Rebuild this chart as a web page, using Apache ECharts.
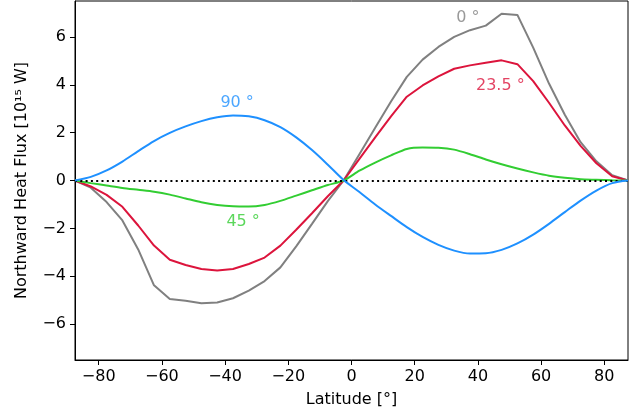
<!DOCTYPE html>
<html>
<head>
<meta charset="utf-8">
<script src="https://cdn.jsdelivr.net/npm/echarts@6/dist/echarts.min.js"></script>
<style>html,body{margin:0;padding:0;background:#fff;}#c{width:638px;height:416px;}</style>
</head>
<body>
<div id="c"></div>
<script>
const latitudes = [-87.5,-82.5,-77.5,-72.5,-67.5,-62.5,-57.5,-52.5,-47.5,-42.5,-37.5,-32.5,-27.5,-22.5,-17.5,-12.5,-7.5,-2.5,2.5,7.5,12.5,17.5,22.5,27.5,32.5,37.5,42.5,47.5,52.5,57.5,62.5,67.5,72.5,77.5,82.5,87.5];
const flux0 = [0,-0.3,-0.9,-1.67,-2.88,-4.38,-4.95,-5.02,-5.13,-5.1,-4.92,-4.6,-4.2,-3.63,-2.75,-1.81,-0.86,0,1.1,2.2,3.3,4.33,5.05,5.58,6.0,6.28,6.47,6.97,6.92,5.55,4.05,2.75,1.6,0.8,0.22,0];
const flux23 = [0,-0.25,-0.6,-1.1,-1.88,-2.72,-3.31,-3.53,-3.7,-3.76,-3.7,-3.49,-3.22,-2.72,-2.06,-1.37,-0.66,0,0.9,1.8,2.68,3.5,3.97,4.35,4.67,4.81,4.92,5.02,4.86,4.15,3.25,2.3,1.45,0.72,0.18,0];
const flux45 = [0,-0.11,-0.21,-0.31,-0.39,-0.47,-0.59,-0.75,-0.91,-1.02,-1.08,-1.09,-1.02,-0.85,-0.63,-0.41,-0.19,0,0.41,0.75,1.05,1.32,1.38,1.37,1.29,1.1,0.88,0.68,0.5,0.34,0.2,0.11,0.05,0.03,0.01,0];
const flux90 = [0,0.15,0.42,0.79,1.23,1.65,1.99,2.26,2.48,2.64,2.72,2.68,2.52,2.23,1.8,1.27,0.66,0.02,-0.48,-1.0,-1.48,-1.95,-2.36,-2.69,-2.93,-3.05,-3.04,-2.9,-2.63,-2.26,-1.81,-1.32,-0.84,-0.42,-0.11,0];
const seriesNames = ['0°','23.5°','45°','90°'];
const labelTexts = ['0 °','23.5 °','45 °','90 °'];
const labelLat = [36.8, 47.1, -34.3, -36.2];
const labelVal = [6.79, 3.97, -1.74, 3.26];
const xTicks = [-80,-60,-40,-20,0,20,40,60,80];
const yTicks = [-6,-4,-2,0,2,4,6];
const xRange = [-87.5, 87.5];
const yRange = [-7.5, 7.5];

const colors = ['#808080','#DC143C','#32CD32','#1E90FF'];
const smoothing = [false, false, 0.25, 0.3];
const allFlux = [flux0, flux23, flux45, flux90];
const FONT = 'DejaVu Sans';
const fmt = v => String(v).replace('-', '\u2212');

const series = allFlux.map((arr, i) => ({
  name: seriesNames[i],
  type: 'line',
  data: latitudes.map((la, j) => [la, arr[j]]),
  showSymbol: false,
  symbol: 'none',
  smooth: smoothing[i],
  lineStyle: { color: colors[i], width: 2 },
  z: 2 + i,
  animation: false
}));
series.push({
  type: 'line', data: [], z: 10, animation: false,
  markLine: {
    silent: true, symbol: 'none', animation: false,
    data: [{ yAxis: 0 }],
    label: { show: false },
    lineStyle: { color: '#000', width: 2, type: [2, 3.3], cap: 'butt' }
  }
});
series.push({
  type: 'scatter', z: 12, animation: false, symbolSize: 0,
  data: labelTexts.map((t, i) => ({
    value: [labelLat[i], labelVal[i]],
    label: { show: true, position: 'inside', formatter: t, color: colors[i], fontSize: 16, fontFamily: FONT }
  }))
});

const chart = echarts.init(document.getElementById('c'), null, { renderer: 'canvas' });
chart.setOption({
  animation: false,
  backgroundColor: '#fff',
  grid: { left: 75, right: 10, top: 1, bottom: 56, show: true, borderColor: '#000', borderWidth: 1, backgroundColor: 'transparent' },
  xAxis: {
    type: 'value', min: xRange[0], max: xRange[1],
    name: 'Latitude [°]', nameLocation: 'middle', nameGap: 32,
    nameTextStyle: { fontFamily: FONT, fontSize: 16, color: '#000' },
    axisLine: { show: true, onZero: false, lineStyle: { color: '#000', width: 1 } },
    axisTick: { show: true, length: 5, customValues: xTicks, lineStyle: { color: '#000', width: 1 } },
    axisLabel: { customValues: xTicks, formatter: fmt, fontFamily: FONT, fontSize: 16, color: '#000', margin: 9 },
    splitLine: { show: false }
  },
  yAxis: {
    type: 'value', min: yRange[0], max: yRange[1],
    name: 'Northward Heat Flux [10\u00b9\u2075 W]', nameLocation: 'middle', nameGap: 45, nameRotate: 90,
    nameTextStyle: { fontFamily: FONT, fontSize: 16, color: '#000' },
    axisLine: { show: true, onZero: false, lineStyle: { color: '#000', width: 1 } },
    axisTick: { show: true, length: 5, customValues: yTicks, lineStyle: { color: '#000', width: 1 } },
    axisLabel: { customValues: yTicks, formatter: fmt, fontFamily: FONT, fontSize: 16, color: '#000', margin: 9 },
    splitLine: { show: false }
  },
  series: series
});
</script>
</body>
</html>
